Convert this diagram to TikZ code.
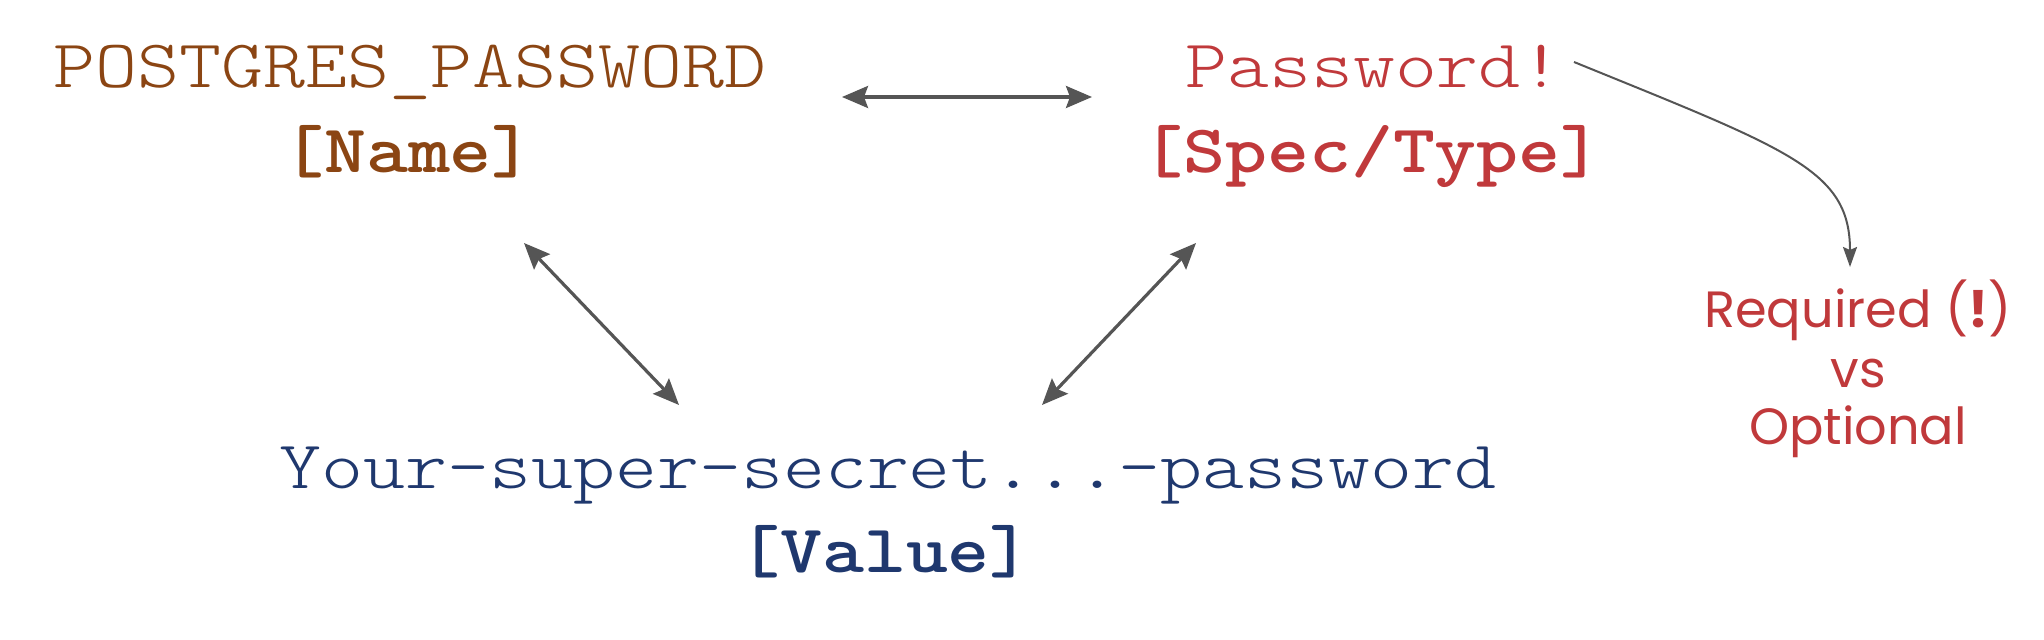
\documentclass[tikz,border=0pt]{standalone}
\usepackage{fontspec}
\newfontfamily\popfont{Poppins}
\usetikzlibrary{arrows.meta}
\definecolor{cbrown}{RGB}{139,69,19}
\definecolor{cred}{RGB}{192,57,59}
\definecolor{cnavy}{RGB}{31,56,110}
\definecolor{cgray}{RGB}{85,85,85}
\newcommand{\mystretch}[1]{\scalebox{1.176}[1]{#1}}
\tikzset{
  monotxt/.style={anchor=base, inner sep=0pt, font=\ttfamily\fontseries{l}\fontsize{34pt}{34pt}\selectfont},
  boldtxt/.style={anchor=base, inner sep=0pt, font=\ttfamily\bfseries\fontsize{34pt}{34pt}\selectfont},
  notetxt/.style={anchor=base, inner sep=0pt, font=\popfont\fontsize{25.5pt}{25.5pt}\selectfont, text=cred},
  biarrow/.style={cgray, line width=1.6pt, {Stealth[length=13pt,width=11pt,inset=2pt]}-{Stealth[length=13pt,width=11pt,inset=2pt]}},
  onearrow/.style={cgray, line width=1pt, -{Stealth[length=10pt,width=7pt,inset=1.5pt]}}
}
\begin{document}
\begin{tikzpicture}[x=0.5pt,y=-0.5pt]
\useasboundingbox (0,0) rectangle (2044,640);
% texts
\node[monotxt, text=cbrown] (pgname) at (410,88) {\mystretch{POSTGRES\_PASSWORD}};
\node[boldtxt, text=cbrown] (name) at (408,173) {\mystretch{[Name]}};
\node[monotxt, text=cred] (pwd) at (1374,88) {\mystretch{Password!}};
\node[boldtxt, text=cred] (spec) at (1372,173) {\mystretch{[Spec/Type]}};
\node[monotxt, text=cnavy] (val) at (888,488) {\mystretch{Your-super-secret...-password}};
\node[boldtxt, text=cnavy] (value) at (885,573) {\mystretch{[Value]}};
\node[notetxt] (req) at (1858,328) {Required (\textbf{!})};
\node[notetxt] (vs) at (1858,388) {vs};
\node[notetxt] (opt) at (1858,445) {Optional};
% arrow end points
\coordinate (h1) at (842,97);
\coordinate (h2) at (1092,97);
\coordinate (l1) at (524,243);
\coordinate (l2) at (679,405);
\coordinate (r1) at (1196,243);
\coordinate (r2) at (1042,405);
\coordinate (cs) at (1574,62);
\coordinate (ce) at (1850,267);
% connectors
\draw[biarrow] (h1) -- (h2);
\draw[biarrow] (l1) -- (l2);
\draw[biarrow] (r1) -- (r2);
\draw[onearrow] (cs) .. controls (1790,150) and (1850,170) .. (ce);
\end{tikzpicture}
\end{document}
